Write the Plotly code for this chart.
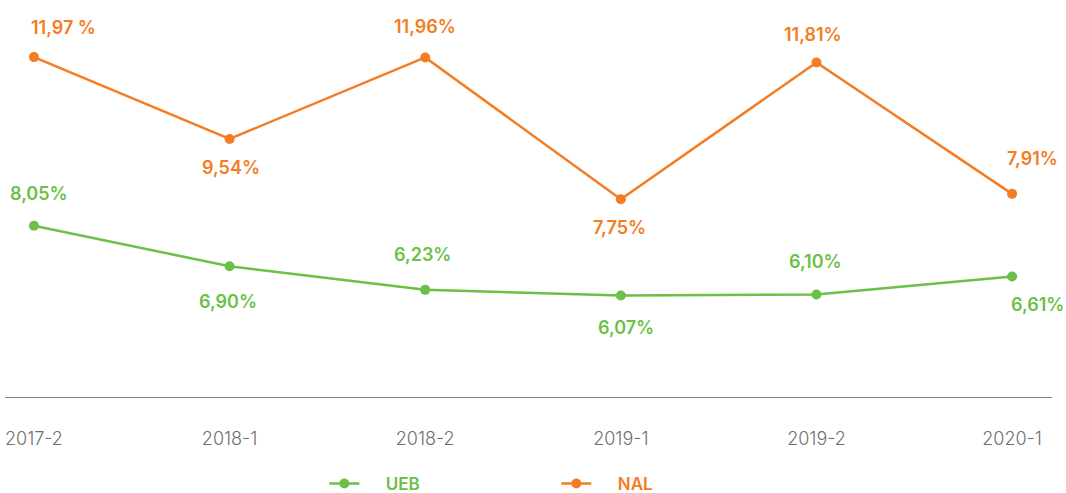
import plotly.graph_objects as go

# Semester periods and rates (%)
periods = ["2017-2", "2018-1", "2018-2", "2019-1", "2019-2", "2020-1"]
ueb = [8.05, 6.90, 6.23, 6.07, 6.10, 6.61]
nal = [11.97, 9.54, 11.96, 7.75, 11.81, 7.91]
ueb_labels = ["8,05%", "6,90%", "6,23%", "6,07%", "6,10%", "6,61%"]
nal_labels = ["11,97 %", "9,54%", "11,96%", "7,75%", "11,81%", "7,91%"]

GREEN = "#6cbf47"
ORANGE = "#f47c22"
LABEL_FONT = "Inter"
PAD = "&nbsp;" * 5

# label offsets (px) relative to each point: (dx, dy), positive dy = upwards
ueb_offsets = [(5, 32), (-2, -35), (-3, 35), (5, -32), (-1, 33), (25, -28)]
nal_offsets = [(30, 30), (1, -29), (0, 31), (-1, -28), (-3, 28), (20, 35)]

x = list(range(len(periods)))

fig = go.Figure()
fig.add_trace(go.Scatter(
    x=x, y=ueb, mode="lines+markers", yaxis="y2",
    name=f"<span style='color:{GREEN}'>{PAD}UEB</span>",
    line=dict(color=GREEN, width=2.5),
    marker=dict(color=GREEN, size=10),
    hoverinfo="skip",
))
fig.add_trace(go.Scatter(
    x=x, y=nal, mode="lines+markers", yaxis="y",
    name=f"<span style='color:{ORANGE}'>{PAD}NAL</span>",
    line=dict(color=ORANGE, width=2.5),
    marker=dict(color=ORANGE, size=10),
    hoverinfo="skip",
))

annotations = []
for vals, labels, offs, color, yref in [
    (ueb, ueb_labels, ueb_offsets, GREEN, "y2"),
    (nal, nal_labels, nal_offsets, ORANGE, "y"),
]:
    for i, (v, t, (dx, dy)) in enumerate(zip(vals, labels, offs)):
        annotations.append(dict(
            x=i, y=v, xref="x", yref=yref, text=t, showarrow=False,
            xshift=dx, yshift=dy, xanchor="center", yanchor="middle",
            font=dict(family=LABEL_FONT, size=18, color=color, weight=600),
        ))

fig.update_layout(
    width=1066, height=493,
    margin=dict(l=5, r=14, t=0, b=96, autoexpand=False),
    paper_bgcolor="white", plot_bgcolor="white",
    showlegend=True,
    legend=dict(
        orientation="h", x=0.305, xanchor="left", y=-0.219, yanchor="middle",
        font=dict(family=LABEL_FONT, size=17, weight=600),
        entrywidth=187, itemwidth=30,
    ),
    xaxis=dict(
        range=[-0.148, 5.204], tickmode="array", tickvals=x, ticktext=periods,
        showgrid=False, zeroline=False, showline=True, linecolor="#808080",
        linewidth=1, ticks="", ticklabelstandoff=25,
        tickfont=dict(family=LABEL_FONT, size=18, color="#707070", weight=300),
    ),
    yaxis=dict(range=[1.878, 13.665], visible=False, showgrid=False),
    yaxis2=dict(range=[3.186, 14.464], visible=False, showgrid=False,
                overlaying="y"),
    annotations=annotations,
)

fig.write_html("out.html")
